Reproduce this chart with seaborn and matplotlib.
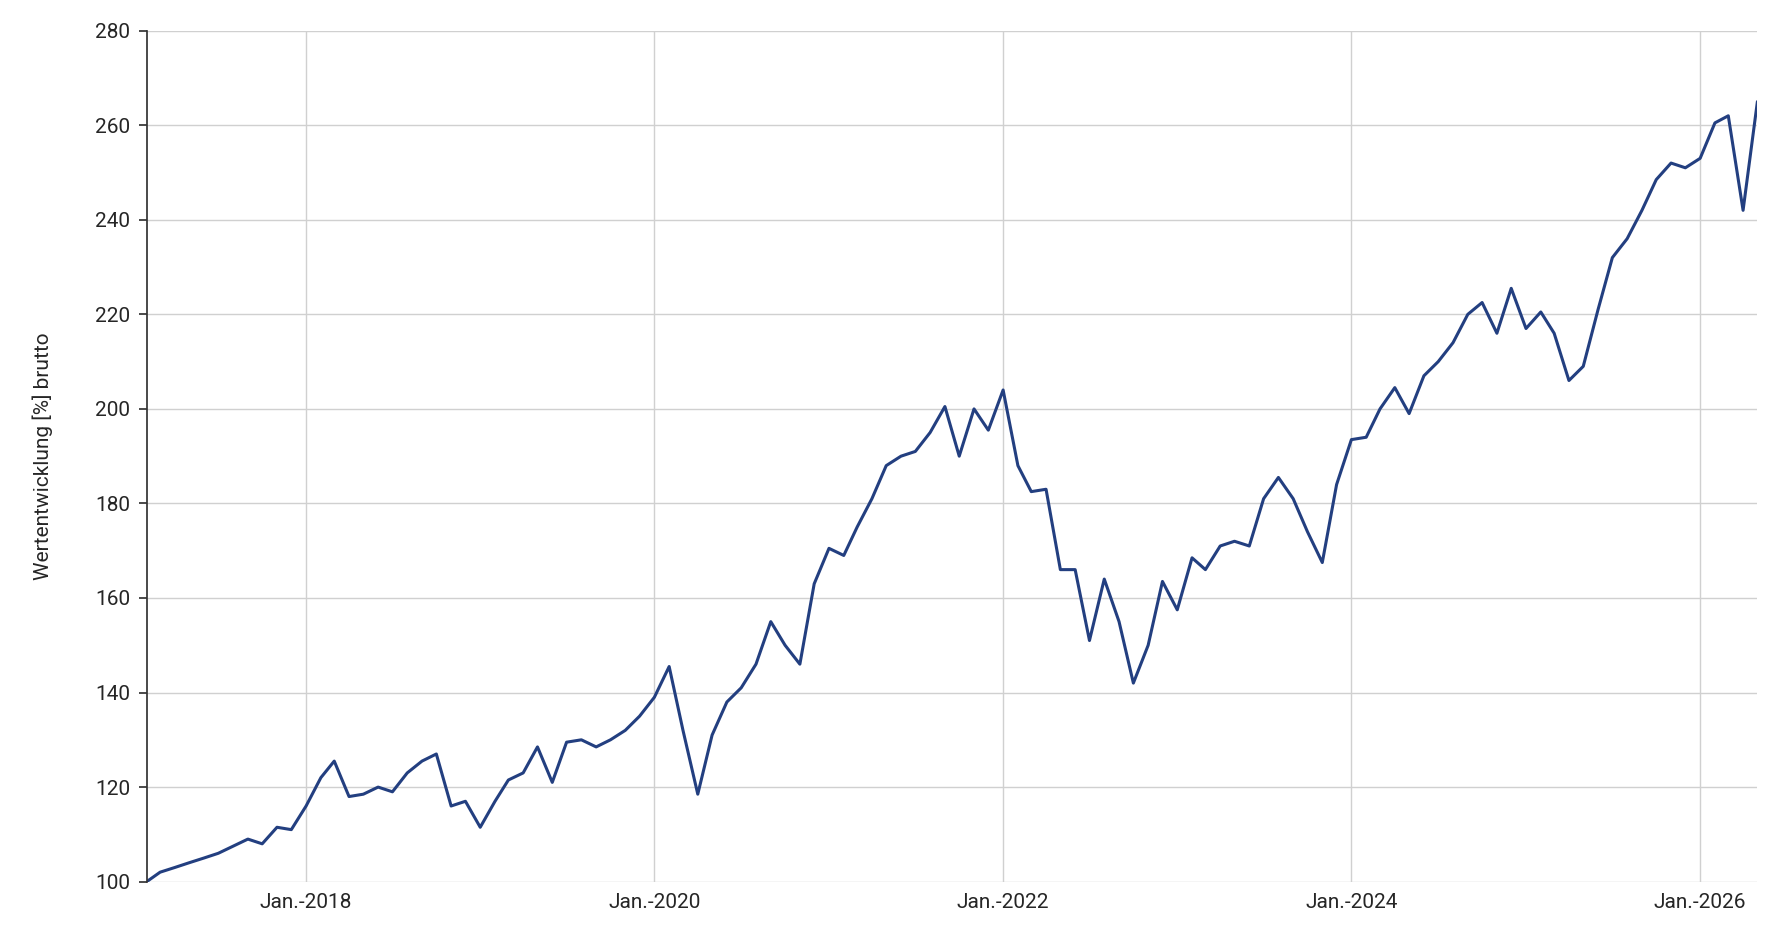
import matplotlib
matplotlib.use("Agg")
import matplotlib.pyplot as plt
import matplotlib.dates as mdates
import seaborn as sns
import pandas as pd

start_month = "2017-02-01"
values = [100, 102, 103, 104, 105, 106, 107.5, 109, 108, 111.5, 111,
          116, 122, 125.5, 118, 118.5, 120, 119, 123, 125.5, 127, 116, 117,
          111.5, 117, 121.5, 123, 128.5, 121, 129.5, 130, 128.5, 130, 132, 135,
          139, 145.5, 132, 118.5, 131, 138, 141, 146, 155, 150, 146, 163,
          170.5, 169, 175, 181, 188, 190, 191, 195, 200.5, 190, 200, 195.5,
          204, 188, 182.5, 183, 166, 166, 151, 164, 155, 142, 150, 163.5,
          157.5, 168.5, 166, 171, 172, 171, 181, 185.5, 181, 174, 167.5, 184,
          193.5, 194, 200, 204.5, 199, 207, 210, 214, 220, 222.5, 216, 225.5,
          217, 220.5, 216, 206, 209, 221, 232, 236, 242, 248.5, 252, 251,
          253, 260.5, 262, 242, 265]
tick_years = [2018, 2020, 2022, 2024, 2026]
tick_labels = [f"Jan.-{y}" for y in tick_years]
y_ticks = list(range(100, 281, 20))

dates = pd.date_range(start_month, periods=len(values), freq="MS")
df = pd.DataFrame({"date": dates, "value": values})

sns.set_theme(style="white")
plt.rcParams["font.family"] = ["Roboto", "DejaVu Sans"]

fig = plt.figure(figsize=(17.68, 9.30), dpi=100)
ax = fig.add_axes([0.083, 0.052, 0.911, 0.915])
sns.lineplot(data=df, x="date", y="value", ax=ax, color="#233f80", linewidth=2.2)

ax.set_xlim(dates[0], dates[-1])
ax.set_ylim(100, 280)
ax.set_yticks(y_ticks)
ax.set_xticks([pd.Timestamp(f"{y}-01-01") for y in tick_years])
ax.set_xticklabels(tick_labels)
ax.grid(True, color="#d0d0d0", linewidth=1)
for s in ["top", "right", "bottom"]:
    ax.spines[s].set_visible(False)
ax.spines["left"].set_color("#333333")
ax.tick_params(axis="y", length=6, color="#333333", labelsize=15, left=True, pad=6)
ax.tick_params(axis="x", length=0, labelsize=15, pad=8)
ax.set_xlabel("")
ax.set_ylabel("Wertentwicklung [%] brutto", fontsize=15, labelpad=30)
fig.savefig("out.png", dpi=100)
